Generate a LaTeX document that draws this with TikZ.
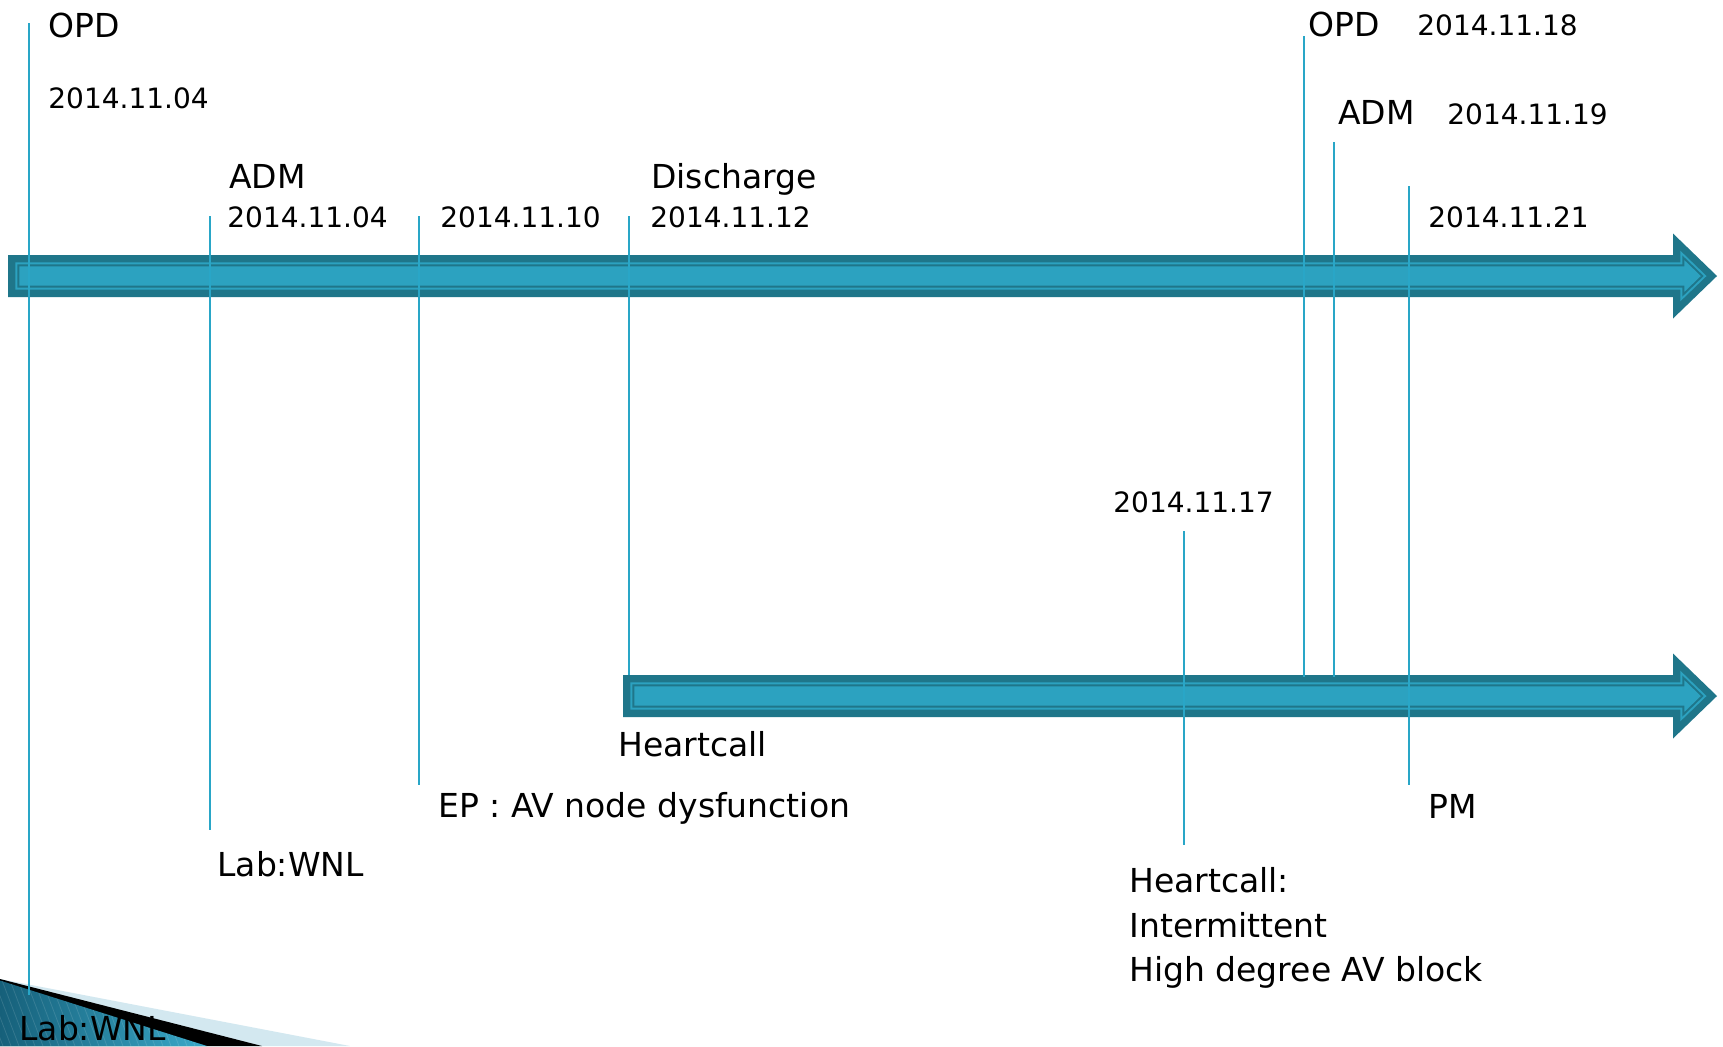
\documentclass[tikz,border=0pt]{standalone}
\usepackage{fontspec}
\setmainfont{DejaVu Sans}
\usetikzlibrary{calc}

\definecolor{tealdark}{HTML}{1F768A}
\definecolor{teallight}{HTML}{2CA2C0}
\definecolor{markline}{HTML}{29A6C7}
\definecolor{cornerpale}{HTML}{D3E8F0}
\definecolor{cornerdeep}{HTML}{16607A}
\definecolor{cornerbright}{HTML}{3AAACA}

% Block arrow of the timeline: #1 left end, #2 centre line, #3 inset, #4 colour
\newcommand{\tlshape}[4]{%
  \fill[#4] ({#1+#3},{#2-21+#3}) -- ({1673+#3},{#2-21+#3})
    -- ({1673+#3},{#2-(44-2.439*#3)*0.966}) -- ({1717-1.439*#3},#2)
    -- ({1673+#3},{#2+(44-2.439*#3)*0.966}) -- ({1673+#3},{#2+21-#3})
    -- ({#1+#3},{#2+21-#3}) -- cycle;}
\newcommand{\tlarrow}[2]{%
  \tlshape{#1}{#2}{0}{tealdark}
  \tlshape{#1}{#2}{7.3}{teallight}
  \tlshape{#1}{#2}{9.3}{tealdark}
  \tlshape{#1}{#2}{11.3}{teallight}}

\tikzset{
  big/.style={anchor=base west, inner sep=0pt, font=\fontsize{16.5}{20}\selectfont},
  datelbl/.style={anchor=base west, inner sep=0pt, font=\fontsize{14}{17}\selectfont},
  marker/.style={draw=markline, line width=1pt}
}

\begin{document}
\begin{tikzpicture}[x=0.5pt, y=-0.5pt]
\useasboundingbox (0,0) rectangle (1723,1046);
\fill[white] (0,0) rectangle (1723,1046);

% corner ornament
\fill[cornerpale] (0,979) -- (350,1046) -- (0,1046) -- cycle;
\fill[black] (0,979) -- (262,1046) -- (0,1046) -- cycle;
\begin{scope}
  \clip (0,980.5) -- (207,1046) -- (0,1046) -- cycle;
  \shade[left color=cornerdeep, right color=cornerbright] (0,975) rectangle (210,1046);
  \foreach \s in {-40,-32,...,210}
    \draw[white, opacity=0.12, line width=0.4pt] (\s,975) -- ({\s+27},1046);
\end{scope}

% timeline arrows
\tlarrow{8}{276}
\tlarrow{623}{696}

% marker ends
\coordinate (m1t) at (28.5,23);   \coordinate (m1b) at (28.5,995);
\coordinate (m2t) at (210,216);   \coordinate (m2b) at (210,830);
\coordinate (m3t) at (419,216);   \coordinate (m3b) at (419,785);
\coordinate (m4t) at (629,216);   \coordinate (m4b) at (629,675);
\coordinate (m5t) at (1303.5,36); \coordinate (m5b) at (1303.5,677);
\coordinate (m6t) at (1334,142);  \coordinate (m6b) at (1334,677);
\coordinate (m7t) at (1409,186);  \coordinate (m7b) at (1409,785);
\coordinate (m8t) at (1183.5,531);\coordinate (m8b) at (1183.5,845);

\foreach \i in {1,...,8}
  \draw[marker] (m\i t) -- (m\i b);

% labels above the first timeline
\node[big] (opdA) at (48,37) {OPD};
\node[datelbl] (dateA) at (48,108) {2014.11.04};
\node[big] (admA) at (229,188) {ADM};
\node[datelbl] (dateB) at (227,227) {2014.11.04};
\node[datelbl] (dateC) at (440,227) {2014.11.10};
\node[big] (dis) at (651,188) {Discharge};
\node[datelbl] (dateD) at (650,227) {2014.11.12};
\node[big] (opdB) at (1308,36) {OPD};
\node[datelbl] (dateE) at (1417,35) {2014.11.18};
\node[big] (admB) at (1338,124) {ADM};
\node[datelbl] (dateF) at (1447,124) {2014.11.19};
\node[datelbl] (dateG) at (1428,227) {2014.11.21};
\node[datelbl] (dateH) at (1113,512) {2014.11.17};

% labels below
\node[big] (hcA) at (618,756) {Heartcall};
\node[big] (ep) at (438,817) {EP : AV node dysfunction};
\node[big] (labA) at (217,876) {Lab:WNL};
\node[big] (pm) at (1428,818) {PM};
\node[big] (hcB1) at (1129,892) {Heartcall:};
\node[big] (hcB2) at (1129,937) {Intermittent};
\node[big] (hcB3) at (1129,981) {High degree AV block};
\node[big] (labB) at (19,1040) {Lab:WNL};
\end{tikzpicture}
\end{document}
